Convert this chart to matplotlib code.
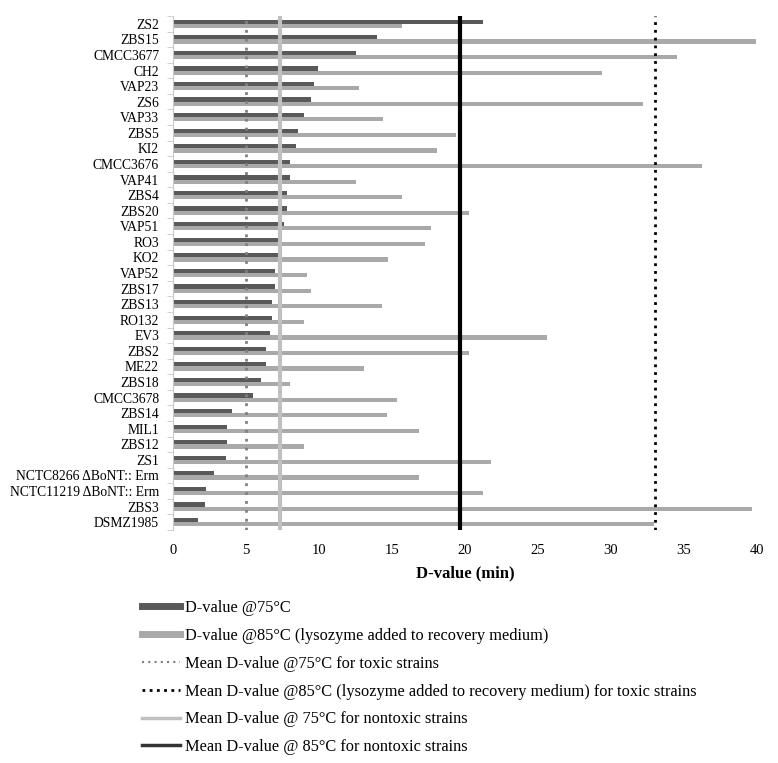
import matplotlib
matplotlib.use("Agg")
import matplotlib.pyplot as plt
import numpy as np
from matplotlib.lines import Line2D

plt.rcParams["font.family"] = ["Liberation Serif", "DejaVu Serif"]

# strains, top to bottom
strains = ["ZS2", "ZBS15", "CMCC3677", "CH2", "VAP23", "ZS6", "VAP33", "ZBS5",
           "KI2", "CMCC3676", "VAP41", "ZBS4", "ZBS20", "VAP51", "RO3", "KO2",
           "VAP52", "ZBS17", "ZBS13", "RO132", "EV3", "ZBS2", "ME22", "ZBS18",
           "CMCC3678", "ZBS14", "MIL1", "ZBS12", "ZS1",
           "NCTC8266 \u0394BoNT:: Erm", "NCTC11219 \u0394BoNT:: Erm", "ZBS3",
           "DSMZ1985"]

d75 = [21.25, 14.0, 12.5, 9.9, 9.66, 9.43, 9.0, 8.58, 8.4, 8.0, 8.0, 7.83,
       7.83, 7.63, 7.44, 7.44, 6.96, 6.96, 6.8, 6.8, 6.64, 6.35, 6.35, 6.05,
       5.5, 4.06, 3.7, 3.7, 3.6, 2.79, 2.28, 2.17, 1.71]

d85 = [15.7, 39.95, 34.5, 29.35, 12.76, 32.2, 14.4, 19.4, 18.05, 36.2, 12.5,
       15.7, 20.3, 17.7, 17.26, 14.7, 9.2, 9.43, 14.34, 9.0, 25.6, 20.3, 13.06,
       8.0, 15.36, 14.66, 16.85, 9.0, 21.76, 16.85, 21.25, 39.66, 32.95]

mean_toxic_75 = 5.0
mean_toxic_85 = 33.0
mean_nontoxic_75 = 7.3
mean_nontoxic_85 = 19.65

dark = "#595959"
light = "#a9a9a9"

fig = plt.figure(figsize=(7.78, 7.63), dpi=100)
ax = fig.add_axes([0.2224, 0.3054, 0.7506, 0.6736])

y = np.arange(len(strains))
h = 0.27
ax.barh(y - h / 2, d75, height=h, color=dark, zorder=2)
ax.barh(y + h / 2, d85, height=h, color=light, zorder=2)

ax.axvline(mean_toxic_75, color="#808080", lw=2, ls=(0, (1, 2.2)), zorder=3)
ax.axvline(mean_toxic_85, color="black", lw=2, ls=(0, (1, 1.8)), zorder=3)
ax.axvline(mean_nontoxic_75, color="#c0c0c0", lw=3, zorder=3)
ax.axvline(mean_nontoxic_85, color="black", lw=3, zorder=3)

ax.set_ylim(len(strains) - 0.5, -0.5)
ax.set_xlim(0, 40)
ax.set_yticks(y)
ax.set_yticklabels(strains, fontsize=9.8)
ax.set_yticks(np.arange(-0.5, len(strains), 1), minor=True)
ax.tick_params(axis="y", which="major", length=0, pad=10)
ax.tick_params(axis="y", which="minor", length=4, color="#c8c8c8")
ax.set_xticks(np.arange(0, 41, 5))
ax.tick_params(axis="x", length=0, labelsize=10.5, pad=10)
ax.set_xlabel("D-value (min)", fontsize=12, fontweight="bold", labelpad=6)

for s in ["top", "right", "bottom"]:
    ax.spines[s].set_visible(False)
ax.spines["left"].set_color("#c8c8c8")

handles = [
    Line2D([], [], color=dark, lw=5),
    Line2D([], [], color=light, lw=5),
    Line2D([], [], color="#808080", lw=1.5, ls=(0, (1, 2))),
    Line2D([], [], color="black", lw=2, ls=(0, (1, 1.6))),
    Line2D([], [], color="#c0c0c0", lw=2.5),
    Line2D([], [], color="#333333", lw=2.5),
]
labels = [
    "D-value @75\u00b0C",
    "D-value @85\u00b0C (lysozyme added to recovery medium)",
    "Mean D-value @75\u00b0C for toxic strains",
    "Mean D-value @85\u00b0C (lysozyme added to recovery medium) for toxic strains",
    "Mean D-value @ 75\u00b0C for nontoxic strains",
    "Mean D-value @ 85\u00b0C for nontoxic strains",
]
fig.legend(handles, labels, loc="upper left", bbox_to_anchor=(0.174, 0.222),
           frameon=False, fontsize=11.8, handlelength=2.35, handletextpad=0.25,
           labelspacing=0.72, borderaxespad=0)

fig.savefig("out.png", dpi=100)
